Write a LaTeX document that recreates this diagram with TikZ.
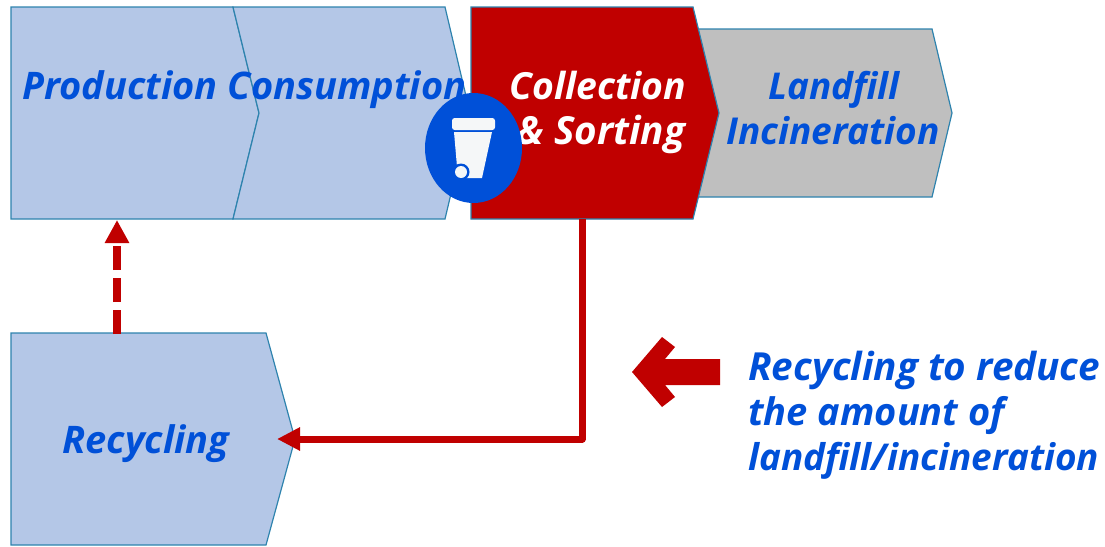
\documentclass[tikz,border=0pt]{standalone}
\usepackage{fontspec}
\setmainfont{Open Sans}
\usetikzlibrary{arrows.meta}
\definecolor{paleblue}{HTML}{B4C7E7}
\definecolor{edgeblue}{HTML}{2E83AE}
\definecolor{textblue}{HTML}{0050D8}
\definecolor{darkred}{HTML}{C00000}
\definecolor{midgray}{HTML}{BFBFBF}
\definecolor{binwhite}{HTML}{F5F7F8}
\tikzset{
  x=0.75pt,y=-0.75pt,
  stagebox/.style={draw=edgeblue,line width=0.9pt,line join=miter},
  bluebox/.style={stagebox,fill=paleblue},
  label/.style={anchor=base,inner sep=0pt,align=center,text=textblue,font=\fontsize{#1}{33.75}\selectfont\bfseries\itshape},
  label/.default=28.5,
  link/.style={draw=darkred,line join=round},
}
\begin{document}
\begin{tikzpicture}
\useasboundingbox (0,0) rectangle (1105,546);
% stages
\path[bluebox] (11,7) -- (233,7) -- (259,113) -- (233,219) -- (11,219) -- cycle;
\path[bluebox] (233,7) -- (445,7) -- (470,113) -- (445,219) -- (233,219) -- (259,113) -- cycle;
\path[stagebox,fill=midgray] (690,29) -- (932,29) -- (952,113) -- (932,197) -- (690,197) -- cycle;
\path[stagebox,fill=darkred] (471,7) -- (693,7) -- (719,113) -- (693,219) -- (471,219) -- cycle;
\path[bluebox] (11,333) -- (266,333) -- (295,439) -- (266,545) -- (11,545) -- cycle;
% anchor points of connectors
\coordinate (prodbottom) at (117,220);
\coordinate (recytop) at (117,334);
\coordinate (collbottom) at (582,219);
\coordinate (recytip) at (277,439);
\coordinate (bend) at (582,439);
% labels
\node[label] (production) at (120,99) {Production};
\node[label] (consumption) at (347,99) {Consumption};
\node[label=28,text=white] (collection) at (598,99) {Collection};
\node[label=29,text=white] (sorting) at (601,144) {\& Sorting};
\node[label=27.7] (landfill) at (834,99) {Landfill};
\node[label=27.8] (incineration) at (833,144) {Incineration};
\node[label] (recycling) at (146,453) {Recycling};
\node[label=29,anchor=base west] (note1) at (748,380) {Recycling to reduce};
\node[label=28.5,anchor=base west] (note2) at (748,425) {the amount of};
\node[label=27.7,anchor=base west] (note3) at (748,470) {landfill/incineration};
% connectors
\draw[link,line width=5.25pt,-{Triangle[length=17.25pt,width=16.5pt]}] (collbottom) -- (bend) -- (recytip);
\draw[link,line width=6pt,dash pattern=on 18pt off 6pt,-{Triangle[length=17.25pt,width=17.25pt]}] (recytop) -- (prodbottom);
% big arrow
\fill[darkred] (632,372) -- (662,337) -- (675,347) -- (665,359) -- (720,359) -- (720,385) -- (665,385) -- (675,397) -- (662,407) -- cycle;
% bin badge
\fill[textblue] (473.5,148) ellipse [x radius=48.5,y radius=55];
\fill[binwhite,rounded corners=2pt] (452,130) -- (452,118) -- (495,118) -- (495,130) -- cycle;
\fill[binwhite] (454,132) -- (492,132) -- (482,178) -- (458,178) -- cycle;
\fill[textblue] (461,172) circle [radius=8.5];
\fill[binwhite] (461,172) circle [radius=6];
\end{tikzpicture}
\end{document}
